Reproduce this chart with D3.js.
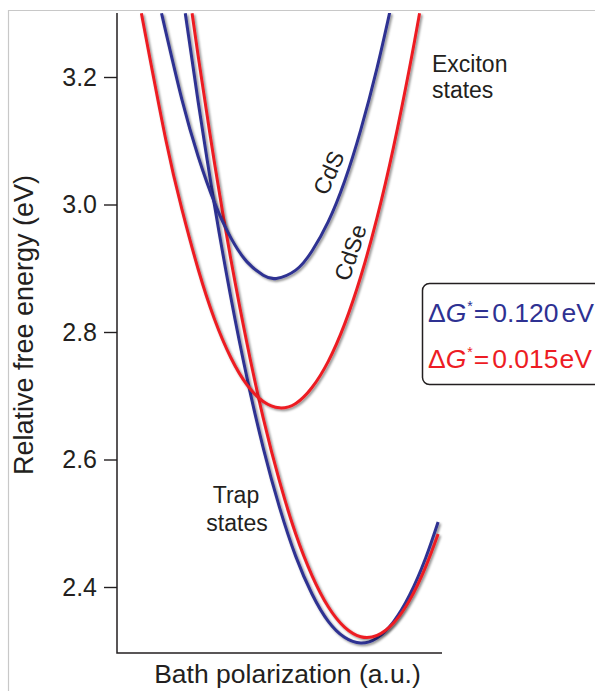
<!DOCTYPE html>
<html>
<head>
<meta charset="utf-8">
<script src="https://cdn.jsdelivr.net/npm/d3@7"></script>
<style>
  html, body { margin: 0; padding: 0; background: #fff; }
  svg { display: block; font-family: "Liberation Sans", Arial, Helvetica, sans-serif; }
</style>
</head>
<body>
<svg id="chart" width="595" height="691"></svg>
<script>
// Free-energy surfaces vs. bath polarization (a.u. on 0–10)
const yTicks = [2.4, 2.6, 2.8, 3.0, 3.2];

// Exciton-state surfaces
const cdsExciton = [
  [1.37, 3.300], [2.0, 3.164], [2.5, 3.075], [3.0, 3.003], [3.5, 2.948],
  [4.0, 2.910], [4.5, 2.889], [4.9, 2.884], [5.5, 2.897], [6.0, 2.927],
  [6.5, 2.973], [7.0, 3.036], [7.5, 3.117], [8.0, 3.214], [8.39, 3.301]
];
const cdseExciton = [
  [0.75, 3.300], [1.5, 3.102], [2.0, 2.992], [2.5, 2.898], [3.0, 2.820],
  [3.5, 2.760], [4.0, 2.717], [4.5, 2.691], [5.0, 2.681], [5.5, 2.688],
  [6.0, 2.713], [6.5, 2.754], [7.0, 2.812], [7.5, 2.887], [8.0, 2.979],
  [8.5, 3.088], [9.0, 3.214], [9.31, 3.300]
];
// Trap-state surfaces
const cdsTrap = [
  [2.1, 3.300], [2.5, 3.160], [3.0, 2.999], [3.5, 2.855], [4.0, 2.728],
  [4.5, 2.618], [5.0, 2.525], [5.5, 2.448], [6.0, 2.389], [6.5, 2.346],
  [7.0, 2.321], [7.5, 2.312], [8.0, 2.320], [8.5, 2.345], [9.0, 2.387],
  [9.5, 2.446], [9.88, 2.502]
];
const cdseTrap = [
  [2.31, 3.300], [2.5, 3.232], [3.0, 3.065], [3.5, 2.915], [4.0, 2.782],
  [4.5, 2.665], [5.0, 2.566], [5.5, 2.483], [6.0, 2.418], [6.5, 2.369],
  [7.0, 2.337], [7.5, 2.322], [8.0, 2.324], [8.5, 2.343], [9.0, 2.379],
  [9.5, 2.432], [9.88, 2.483]
];

// Activation barriers shown in the legend (eV)
const barrierLabels = ["0.120", "0.015"];

const BLUE = "#2e3192", RED = "#ed1c24", INK = "#231f20";
const FONT_AXIS = 27, FONT_TICK = 25, FONT_NOTE = 23, FONT_LEGEND = 26.5;

const svg = d3.select("#chart");

// Thin gray frame along the top and left edges
svg.append("line").attr("x1", 8).attr("x2", 595).attr("y1", 10.5).attr("y2", 10.5)
  .attr("stroke", "#c8c8c8").attr("stroke-width", 1.2);
svg.append("line").attr("x1", 8.5).attr("x2", 8.5).attr("y1", 10).attr("y2", 691)
  .attr("stroke", "#c8c8c8").attr("stroke-width", 1.2);

const plot = { left: 117, right: 442, top: 13, bottom: 653 };

const x = d3.scaleLinear().domain([0, 10]).range([plot.left, plot.right]);
const y = d3.scaleLinear().domain([2.4, 3.2]).range([587, 77]);

const defs = svg.append("defs");
const shadow = defs.append("filter").attr("id", "shadow")
  .attr("x", "-20%").attr("y", "-20%").attr("width", "140%").attr("height", "140%");
shadow.append("feDropShadow").attr("dx", 1.6).attr("dy", 1.6)
  .attr("stdDeviation", 1.1).attr("flood-color", "#000").attr("flood-opacity", 0.45);

defs.append("clipPath").attr("id", "plotclip").append("rect")
  .attr("x", plot.left).attr("y", plot.top)
  .attr("width", plot.right - plot.left + 10).attr("height", plot.bottom - plot.top);

// Axes
const yAxis = d3.axisLeft(y).tickValues(yTicks).tickFormat(d3.format(".1f"))
  .tickSize(13).tickSizeOuter(0);
const gy = svg.append("g").attr("transform", `translate(${plot.left},0)`).call(yAxis);
gy.select(".domain").remove();
gy.selectAll(".tick line").attr("stroke", INK).attr("stroke-width", 1.4);
gy.selectAll(".tick text").attr("x", -20).attr("fill", INK)
  .attr("font-size", FONT_TICK).attr("font-family", null);

svg.append("path")
  .attr("d", `M${plot.left},${plot.top}V${plot.bottom}H${plot.right}`)
  .attr("fill", "none").attr("stroke", INK).attr("stroke-width", 1.5);

// Axis titles
svg.append("text")
  .attr("transform", `translate(33,325) rotate(-90)`)
  .attr("text-anchor", "middle").attr("font-size", FONT_AXIS).attr("fill", INK)
  .text("Relative free energy (eV)");
svg.append("text")
  .attr("x", 287.5).attr("y", 683)
  .attr("text-anchor", "middle").attr("font-size", 26.5).attr("fill", INK)
  .text("Bath polarization (a.u.)");

// Curves
const line = d3.line().x(d => x(d[0])).y(d => y(d[1])).curve(d3.curveNatural);
const curves = svg.append("g").attr("clip-path", "url(#plotclip)");
[[cdsTrap, BLUE], [cdseTrap, RED], [cdsExciton, BLUE], [cdseExciton, RED]]
  .forEach(([data, color]) => {
    curves.append("path").datum(data)
      .attr("d", line)
      .attr("fill", "none").attr("stroke", color).attr("stroke-width", 3)
      .attr("stroke-linecap", "butt")
      .attr("filter", "url(#shadow)");
  });

// Curve annotations
svg.append("text").attr("transform", "translate(336,176) rotate(-66)")
  .attr("text-anchor", "middle").attr("font-size", FONT_NOTE).attr("fill", INK).text("CdS");
svg.append("text").attr("transform", "translate(358,255) rotate(-72)")
  .attr("text-anchor", "middle").attr("font-size", FONT_NOTE).attr("fill", INK).text("CdSe");

const exciton = svg.append("text").attr("font-size", FONT_NOTE).attr("fill", INK);
exciton.append("tspan").attr("x", 432).attr("y", 72).text("Exciton");
exciton.append("tspan").attr("x", 432).attr("y", 98).text("states");

const trap = svg.append("text").attr("font-size", FONT_NOTE).attr("fill", INK)
  .attr("text-anchor", "middle");
trap.append("tspan").attr("x", 236).attr("y", 503).text("Trap");
trap.append("tspan").attr("x", 237).attr("y", 531).text("states");

// Legend box with activation barriers
svg.append("rect")
  .attr("x", 422.5).attr("y", 283.5).attr("width", 200).attr("height", 101)
  .attr("rx", 7).attr("ry", 7)
  .attr("fill", "none").attr("stroke", INK).attr("stroke-width", 1.5);

[[barrierLabels[0], BLUE, 322, 3], [barrierLabels[1], RED, 368, 1]].forEach(([val, color, yy, gap]) => {
  const t = svg.append("text").attr("x", 428).attr("y", yy)
    .attr("font-size", FONT_LEGEND).attr("fill", color);
  t.append("tspan").text("\u0394");
  t.append("tspan").attr("font-style", "italic").text("G");
  t.append("tspan").attr("font-size", 14).attr("dy", -11).attr("dx", 1).text("*");
  t.append("tspan").attr("dy", 11).attr("dx", 1).text("=");
  t.append("tspan").attr("dx", 3).text(val);
  t.append("tspan").attr("dx", gap).text("eV");
});
</script>
</body>
</html>
